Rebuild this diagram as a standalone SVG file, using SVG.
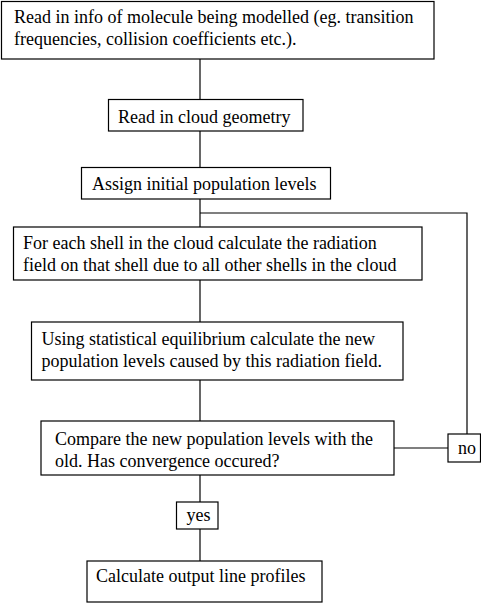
<svg xmlns="http://www.w3.org/2000/svg" width="481" height="603" viewBox="0 0 481 603">
<style>
.box{fill:#fff;stroke:#000;stroke-width:1.2}
.t{font-family:"Liberation Serif","Times New Roman",Times,serif;font-size:18px;fill:#000}
.c{fill:none;stroke:#000;stroke-width:1.2}
</style>
<rect width="481" height="603" fill="#fff"/>
<g id="connectors">
<line class="c" x1="200" y1="59" x2="200" y2="99"/>
<line class="c" x1="200" y1="131" x2="200" y2="167"/>
<line class="c" x1="200" y1="199" x2="200" y2="227"/>
<line class="c" x1="200" y1="280" x2="200" y2="322"/>
<line class="c" x1="200" y1="380" x2="200" y2="421"/>
<line class="c" x1="200" y1="475" x2="200" y2="502"/>
<line class="c" x1="200" y1="529" x2="200" y2="561"/>
<line class="c" x1="394" y1="448" x2="448" y2="448"/>
<polyline class="c" points="467,434 467,213 200,213"/>
</g>
<g font-family="Liberation Serif, serif">
<g id="n1">
<rect class="box" x="1.5" y="1.5" width="432.5" height="57.5"/>
<text class="t" x="14" y="22.5">Read in info of molecule being modelled (eg. transition</text>
<text class="t" x="14" y="44.5">frequencies, collision coefficients etc.).</text>
</g>
<g id="n2">
<rect class="box" x="108.5" y="99.5" width="194.5" height="31.5"/>
<text class="t" x="118" y="122.5">Read in cloud geometry</text>
</g>
<g id="n3">
<rect class="box" x="81.5" y="167.5" width="249" height="31.5"/>
<text class="t" x="92" y="190">Assign initial population levels</text>
</g>
<g id="n4">
<rect class="box" x="13.5" y="227" width="408.5" height="53"/>
<text class="t" x="23" y="248.5">For each shell in the cloud calculate the radiation</text>
<text class="t" x="23" y="270.5">field on that shell due to all other shells in the cloud</text>
</g>
<g id="n5">
<rect class="box" x="31.5" y="322" width="371.5" height="58"/>
<text class="t" x="41.5" y="345">Using statistical equilibrium calculate the new</text>
<text class="t" x="41.5" y="367">population levels caused by this radiation field.</text>
</g>
<g id="n6">
<rect class="box" x="41" y="421" width="353" height="54"/>
<text class="t" x="55" y="445">Compare the new population levels with the</text>
<text class="t" x="55" y="467">old. Has convergence occured?</text>
</g>
<g id="no">
<rect class="box" x="448" y="434" width="32.5" height="28"/>
<text class="t" x="458" y="453.5">no</text>
</g>
<g id="yes">
<rect class="box" x="176.5" y="502" width="41.5" height="27"/>
<text class="t" x="186.5" y="520.5">yes</text>
</g>
<g id="n9">
<rect class="box" x="87" y="561" width="235" height="41"/>
<text class="t" x="96" y="582">Calculate output line profiles</text>
</g>
</g>
</svg>
